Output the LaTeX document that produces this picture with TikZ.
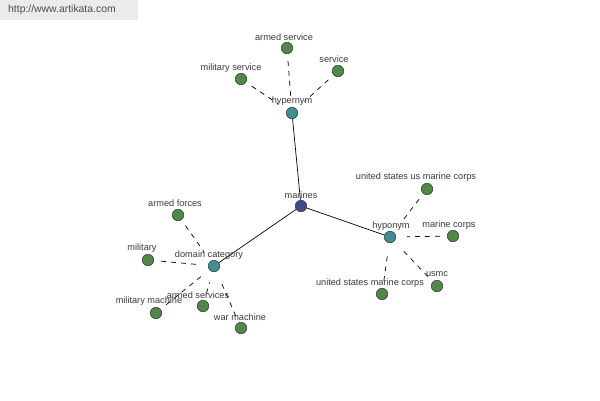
\documentclass[tikz,border=0pt]{standalone}
\usepackage{fontspec}
\setmainfont{Liberation Sans}
\definecolor{leafc}{HTML}{4E8A45}
\definecolor{hubc}{HTML}{3E9090}
\definecolor{rootc}{HTML}{404C8E}
\definecolor{txtc}{HTML}{3A3A3A}
\tikzset{
  dot/.style={circle,draw=black!80,line width=0.5pt,minimum size=11.5pt,inner sep=0pt},
  leaf/.style={dot,fill=leafc},
  hub/.style={dot,fill=hubc},
  root/.style={dot,fill=rootc},
  lbl/.style={font=\fontsize{9.2}{10}\selectfont,text=txtc,inner sep=0pt},
  solidlink/.style={draw=black,line width=0.7pt},
  dashlink/.style={draw=black,line width=0.7pt,dash pattern=on 5pt off 5pt,shorten <=7pt,shorten >=11pt},
}
\begin{document}
\begin{tikzpicture}[x=1pt,y=-1pt]
\useasboundingbox (0,0) rectangle (600,400);
\fill[white] (0,0) rectangle (600,400);
\fill[black!8] (0,0) rectangle (138,20);
\node[anchor=west,font=\fontsize{10.4}{11}\selectfont,text=black!70,inner sep=0pt] (wm) at (8,10) {http://www.artikata.com};
% hubs
\node[root] (marines) at (301,206) {};
\node[hub] (hypernym) at (292,113) {};
\node[hub] (domain) at (214,266) {};
\node[hub] (hyponym) at (390,237) {};
% leaves
\node[leaf] (armedservice) at (287,48) {};
\node[leaf] (militaryservice) at (241,79) {};
\node[leaf] (service) at (338,71) {};
\node[leaf] (armedforces) at (178,215) {};
\node[leaf] (military) at (148,260) {};
\node[leaf] (militarymachine) at (156,313) {};
\node[leaf] (armedservices) at (203,306) {};
\node[leaf] (warmachine) at (241,328) {};
\node[leaf] (usmarine) at (427,189) {};
\node[leaf] (marinecorps) at (453,236) {};
\node[leaf] (usmc) at (437,286) {};
\node[leaf] (unitedstatesmc) at (382,294) {};
% links
\draw[solidlink] (marines) -- (hypernym);
\draw[solidlink] (marines) -- (domain);
\draw[solidlink] (marines) -- (hyponym);
\foreach \a in {armedservice,militaryservice,service}
  \draw[dashlink] (\a) -- (hypernym);
\foreach \a in {armedforces,military,militarymachine,armedservices,warmachine}
  \draw[dashlink] (\a) -- (domain);
\foreach \a in {usmarine,marinecorps,usmc,unitedstatesmc}
  \draw[dashlink] (\a) -- (hyponym);
% labels
\node[lbl] (l0) at (301,195) {marines};
\node[lbl] (l1) at (292,101) {hypernym};
\node[lbl] (l2) at (209,255) {domain category};
\node[lbl] (l3) at (391,226) {hyponym};
\node[lbl] (l4) at (284,37) {armed service};
\node[lbl] (l5) at (231,68) {military service};
\node[lbl] (l6) at (334,59) {service};
\node[lbl] (l7) at (175,203) {armed forces};
\node[lbl] (l8) at (142,248) {military};
\node[lbl] (l9) at (149,301) {military machine};
\node[lbl] (l10) at (198,295) {armed services};
\node[lbl] (l11) at (240,317) {war machine};
\node[lbl] (l12) at (416,177) {united states us marine corps};
\node[lbl] (l13) at (449,225) {marine corps};
\node[lbl] (l14) at (437,274) {usmc};
\node[lbl] (l15) at (370,283) {united states marine corps};
\end{tikzpicture}
\end{document}
